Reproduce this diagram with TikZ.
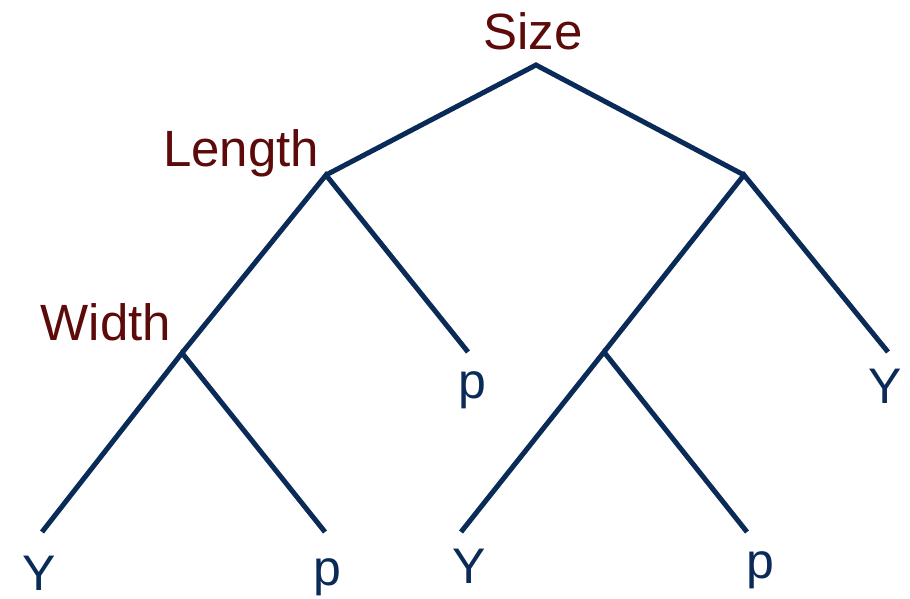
\documentclass[tikz,border=0pt]{standalone}
\usepackage{fontspec}
\setmainfont{Liberation Sans}
\definecolor{branchblue}{HTML}{0A2A58}
\definecolor{labelred}{HTML}{5C0A0A}
\begin{document}
\begin{tikzpicture}[x=1pt,y=-1pt,
  branch/.style={draw=branchblue,line width=5pt,line cap=butt,line join=miter},
  attr/.style={text=labelred,font=\fontsize{51}{60}\selectfont,anchor=base,inner sep=0pt},
  leaf/.style={text=branchblue,font=\fontsize{50}{60}\selectfont,anchor=base,inner sep=0pt}]
\useasboundingbox (0,0) rectangle (910,599);
% branch points
\coordinate (root) at (536,65);
\coordinate (len) at (326,175);
\coordinate (rt) at (744,175);
\coordinate (wid) at (182,353);
\coordinate (rtl) at (604,352);
% leaf ends
\coordinate (e1) at (42,532);
\coordinate (e2) at (325,532);
\coordinate (e3) at (468,352);
\coordinate (e4) at (461,532);
\coordinate (e5) at (747,532);
\coordinate (e6) at (888,352);
% branches
\draw[branch] (len) -- (root) -- (rt);
\draw[branch] (wid) -- (len) -- (e3);
\draw[branch] (e1) -- (wid) -- (e2);
\draw[branch] (rtl) -- (rt) -- (e6);
\draw[branch] (e4) -- (rtl) -- (e5);
% labels
\node[attr] (lsize) at (533,50) {Size};
\node[attr] (llen) at (241,166) {Length};
\node[attr] (lwid) at (106,340) {Width};
\node[leaf] (t1) at (39,590) {Y};
\node[leaf] (t2) at (327,585) {p};
\node[leaf] (t3) at (472,398) {p};
\node[leaf] (t4) at (469,583) {Y};
\node[leaf] (t5) at (760,578) {p};
\node[leaf] (t6) at (885,403) {Y};
\end{tikzpicture}
\end{document}
